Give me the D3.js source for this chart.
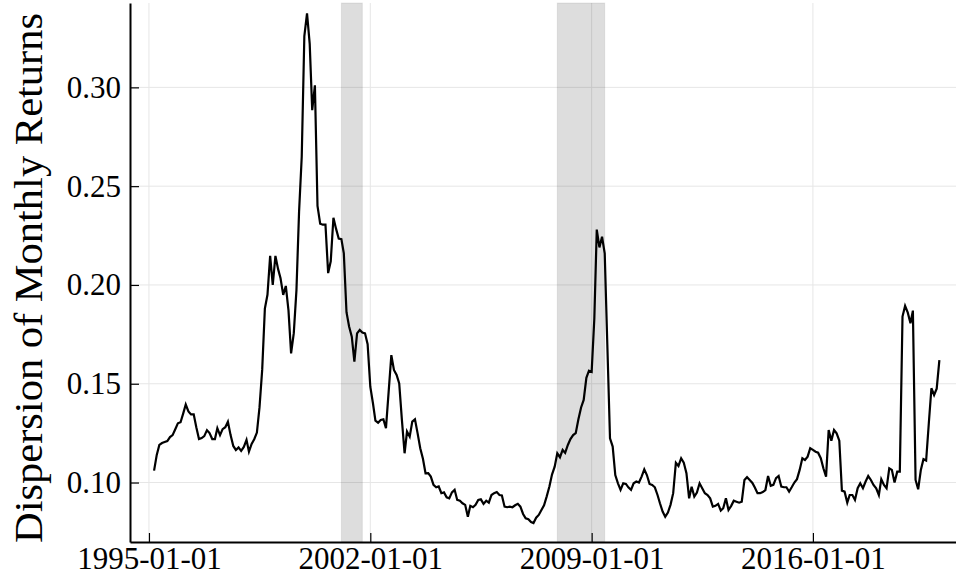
<!DOCTYPE html>
<html>
<head>
<meta charset="utf-8">
<script src="https://cdn.jsdelivr.net/npm/d3@7"></script>
<style>
  body { margin: 0; background: #fff; }
  text { font-family: "Liberation Serif", "Times New Roman", serif; }
</style>
</head>
<body>
<svg id="chart" width="956" height="577"></svg>
<script>
// monthly series, first value is March 1995
const startMonth = '1995-03-01';
const dispersion = [
  0.106, 0.114, 0.119, 0.120, 0.1205, 0.121, 0.123, 0.124, 0.127, 0.130,                   // 1995
  0.1305, 0.135, 0.1395, 0.136, 0.1345, 0.1345, 0.128, 0.122, 0.1225, 0.1235, 0.1265, 0.125, // 1996
  0.122, 0.122, 0.1275, 0.124, 0.127, 0.128, 0.1308, 0.124, 0.1185, 0.1165, 0.1178, 0.116,   // 1997
  0.118, 0.1216, 0.1156, 0.1195, 0.1219, 0.1253, 0.138, 0.157, 0.188, 0.195, 0.2147, 0.200,  // 1998
  0.2147, 0.208, 0.2034, 0.195, 0.1995, 0.187, 0.1654, 0.1756, 0.1975, 0.237, 0.265, 0.326,  // 1999
  0.3375, 0.322, 0.2885, 0.301, 0.240, 0.231, 0.2305, 0.2305, 0.206, 0.212, 0.234, 0.2285,   // 2000
  0.2235, 0.2232, 0.216, 0.1862, 0.179, 0.1738, 0.1612, 0.1755, 0.1772, 0.1759, 0.1755, 0.170, // 2001
  0.1485, 0.140, 0.1313, 0.1303, 0.1317, 0.132, 0.1275, 0.146, 0.1645, 0.157, 0.1544, 0.1502, // 2002
  0.1317, 0.1148, 0.1258, 0.1232, 0.1308, 0.132, 0.125, 0.1174, 0.112, 0.1047, 0.1048, 0.103, // 2003
  0.0988, 0.0976, 0.098, 0.0946, 0.095, 0.0925, 0.092, 0.095, 0.0963, 0.0912, 0.0908, 0.0895, // 2004
  0.0887, 0.0827, 0.0882, 0.0875, 0.0887, 0.0912, 0.0915, 0.0892, 0.0908, 0.0898, 0.0937, 0.0946, // 2005
  0.0952, 0.0937, 0.0935, 0.0878, 0.0875, 0.0878, 0.0875, 0.0885, 0.0892, 0.0878, 0.0841, 0.0819, // 2006
  0.0814, 0.0800, 0.0795, 0.0822, 0.0836, 0.0861, 0.0885, 0.093, 0.098, 0.104, 0.108, 0.1148, // 2007
  0.1128, 0.1165, 0.115, 0.119, 0.122, 0.124, 0.125, 0.132, 0.138, 0.1418, 0.153, 0.1566,    // 2008
  0.156, 0.183, 0.228, 0.219, 0.2244, 0.216, 0.17, 0.1224, 0.1182, 0.1038, 0.0996, 0.0963,   // 2009
  0.0996, 0.0993, 0.0976, 0.0963, 0.0996, 0.1005, 0.100, 0.103, 0.1067, 0.1038, 0.0993, 0.0988, // 2010
  0.0976, 0.0937, 0.0895, 0.0853, 0.0827, 0.0848, 0.0887, 0.0946, 0.110, 0.1084, 0.1123, 0.1101, // 2011
  0.1047, 0.092, 0.0979, 0.0929, 0.0949, 0.0996, 0.0971, 0.0946, 0.0937, 0.092, 0.0878, 0.0882, // 2012
  0.0892, 0.0858, 0.087, 0.092, 0.0861, 0.0882, 0.0908, 0.0903, 0.0898, 0.0903, 0.1013, 0.1027, // 2013
  0.1013, 0.0998, 0.0975, 0.0946, 0.0946, 0.0952, 0.0962, 0.1033, 0.0983, 0.0988, 0.1022, 0.1033, // 2014
  0.0979, 0.0976, 0.0976, 0.0954, 0.0976, 0.100, 0.1017, 0.1064, 0.1123, 0.1114, 0.1131, 0.1174, // 2015
  0.1165, 0.1156, 0.1151, 0.1123, 0.1072, 0.103, 0.1266, 0.1212, 0.1266, 0.1249, 0.1212, 0.0959, // 2016
  0.0954, 0.0898, 0.0937, 0.0937, 0.0912, 0.0971, 0.0996, 0.0971, 0.1005, 0.1033, 0.1013, 0.0988, // 2017
  0.0971, 0.0937, 0.1017, 0.0988, 0.0971, 0.1072, 0.1064, 0.100, 0.1055, 0.1055, 0.184, 0.1894, // 2018
  0.186, 0.1806, 0.187, 0.1013, 0.0966, 0.1064, 0.1118, 0.1111, 0.130, 0.1477, 0.1443, 0.1475, // 2019
  0.162                                                                                      // 2020
];

// recession spans (shaded)
const recessions = [
  ['2001-02-01', '2001-10-01'],
  ['2007-12-01', '2009-06-01']
];

const xTickLabels = ['1995-01-01', '2002-01-01', '2009-01-01', '2016-01-01'];
const yTickValues = [0.10, 0.15, 0.20, 0.25, 0.30];
const yLabel = 'Dispersion of Monthly Returns';

const parse = d3.utcParse('%Y-%m-%d');
const start = parse(startMonth);
const series = dispersion.map((v, i) => ({ date: d3.utcMonth.offset(start, i), value: v }));

// plot frame
const plotLeft = 130, plotRight = 956, plotTop = 3, plotBottom = 542;

const x = d3.scaleUtc()
  .domain([parse('1994-05-27'), parse('2020-07-11')])
  .range([plotLeft, plotRight]);

const y = d3.scaleLinear()
  .domain([0.0699, 0.3427])
  .range([plotBottom, plotTop]);

const svg = d3.select('#chart');

// grid
const grid = svg.append('g').attr('stroke', '#e6e6e6').attr('stroke-width', 1);
grid.selectAll('line.gx')
  .data(xTickLabels.map(parse))
  .join('line')
  .attr('class', 'gx')
  .attr('x1', (d) => x(d)).attr('x2', (d) => x(d))
  .attr('y1', plotTop).attr('y2', plotBottom);
grid.selectAll('line.gy')
  .data(yTickValues)
  .join('line')
  .attr('class', 'gy')
  .attr('x1', plotLeft).attr('x2', plotRight)
  .attr('y1', (d) => y(d)).attr('y2', (d) => y(d));

// recession shading
svg.append('g')
  .selectAll('rect')
  .data(recessions)
  .join('rect')
  .attr('x', (d) => x(parse(d[0])))
  .attr('width', (d) => x(parse(d[1])) - x(parse(d[0])))
  .attr('y', plotTop)
  .attr('height', plotBottom - plotTop)
  .attr('fill', '#000')
  .attr('fill-opacity', 0.135)
  .attr('stroke', '#000')
  .attr('stroke-opacity', 0.08);

// the series
const line = d3.line()
  .x((d) => x(d.date))
  .y((d) => y(d.value));

svg.append('path')
  .datum(series)
  .attr('fill', 'none')
  .attr('stroke', '#000')
  .attr('stroke-width', 2.2)
  .attr('d', line);

// axes, ticks point inward
const yAxis = svg.append('g')
  .attr('transform', `translate(${plotLeft},0)`)
  .call(d3.axisLeft(y)
    .tickValues(yTickValues)
    .tickFormat(d3.format('.2f'))
    .tickSizeInner(-9)
    .tickSizeOuter(0)
    .tickPadding(9));

const xAxis = svg.append('g')
  .attr('transform', `translate(0,${plotBottom})`)
  .call(d3.axisBottom(x)
    .tickValues(xTickLabels.map(parse))
    .tickFormat(d3.utcFormat('%Y-%m-%d'))
    .tickSizeInner(-9)
    .tickSizeOuter(0)
    .tickPadding(5));

[yAxis, xAxis].forEach((g) => {
  g.select('.domain').attr('stroke', '#000').attr('stroke-width', 2);
  g.selectAll('.tick line').attr('stroke', '#000').attr('stroke-width', 1.2);
  g.selectAll('.tick text')
    .attr('fill', '#000')
    .style('font-family', '"Liberation Serif", serif')
    .style('font-size', '31px');
});

// y label
svg.append('text')
  .attr('transform', 'translate(42,278) rotate(-90)')
  .attr('text-anchor', 'middle')
  .attr('textLength', 530)
  .attr('lengthAdjust', 'spacingAndGlyphs')
  .style('font-size', '40px')
  .attr('fill', '#000')
  .text(yLabel);
</script>
</body>
</html>
